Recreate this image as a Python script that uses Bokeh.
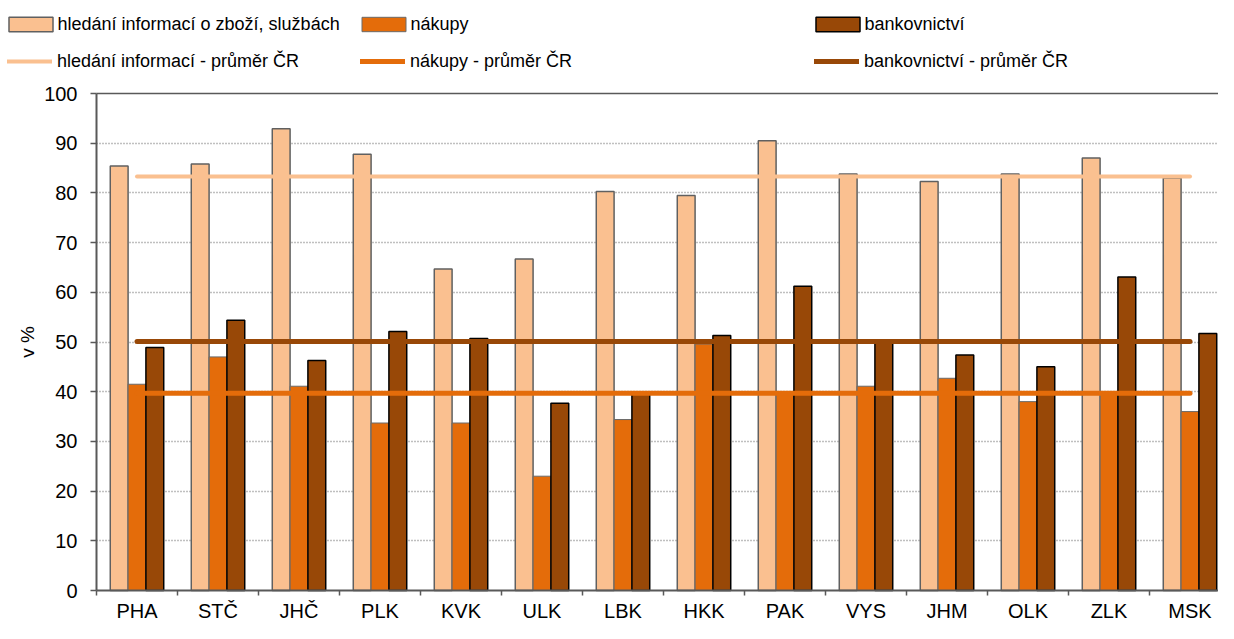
import numpy as np
from bokeh.plotting import figure
from bokeh.models import Legend, LegendItem, FixedTicker, Range1d, Grid
from bokeh.embed import file_html
from bokeh.resources import INLINE

# ---------------- data ----------------
regions = ["PHA", "STČ", "JHČ", "PLK", "KVK", "ULK", "LBK",
           "HKK", "PAK", "VYS", "JHM", "OLK", "ZLK", "MSK"]
info_search = [85.4, 85.8, 92.9, 87.8, 64.7, 66.7, 80.3,
               79.5, 90.5, 83.8, 82.3, 83.8, 87.0, 83.0]
shopping = [41.5, 47.0, 41.1, 33.7, 33.7, 23.0, 34.4,
            49.6, 39.8, 41.1, 42.7, 38.0, 39.5, 36.0]
banking = [48.9, 54.4, 46.3, 52.1, 50.7, 37.7, 39.8,
           51.3, 61.2, 49.9, 47.4, 45.0, 63.1, 51.7]
avg_info_search = 83.3
avg_shopping = 39.7
avg_banking = 50.1

bar_labels = ["hledání informací o zboží, službách", "nákupy", "bankovnictví"]
avg_labels = ["hledání informací - průměr ČR", "nákupy - průměr ČR",
              "bankovnictví - průměr ČR"]
y_ticks = list(range(0, 101, 10))

# ---------------- layout / styles ----------------
FONT = "Liberation Sans"
C_LIGHT = "#FAC090"
C_ORANGE = "#E46C0A"
C_DARK = "#984807"
AXIS_C = "#595959"
W, H = 1218, 623
AXIS_LEFT_PX = 96      # where the value axis sits
TOP_PX = 93            # where 100 % sits
ZERO_PX = 590          # where 0 % sits
CAT_PX = 81            # width of one category

n = len(regions)
unit = (ZERO_PX - TOP_PX) / (y_ticks[-1] - y_ticks[0])
x_start = -AXIS_LEFT_PX / CAT_PX
x_end = (W - AXIS_LEFT_PX) / CAT_PX
y_start = y_ticks[0] - (H - ZERO_PX) / unit
y_end = y_ticks[-1] + TOP_PX / unit

bar_styles = [dict(fill_color=C_LIGHT, line_color="#606060", line_width=1.5),
              dict(fill_color=C_ORANGE, line_color="#6a6a6a", line_width=1),
              dict(fill_color=C_DARK, line_color="black", line_width=1.5)]
line_styles = [dict(line_color=C_LIGHT, line_width=4, line_cap="round"),
               dict(line_color=C_ORANGE, line_width=5, line_cap="round"),
               dict(line_color=C_DARK, line_width=5, line_cap="round")]

centers = np.arange(n) + 0.5
bw = 0.22

p = figure(width=W, height=H, output_backend="svg", toolbar_location=None,
           x_range=Range1d(x_start, x_end), y_range=Range1d(y_start, y_end),
           min_border=0, min_border_left=0, min_border_right=0,
           min_border_top=0, min_border_bottom=0)
p.outline_line_color = None

# grid lines (dotted) only over the category area
p.xgrid.grid_line_color = None
p.ygrid.ticker = FixedTicker(ticks=y_ticks[1:-1])
p.ygrid.grid_line_color = "#808080"
p.ygrid.grid_line_dash = "1 2"
p.ygrid.grid_line_width = 1.5
p.ygrid.cross_bounds = (0, n)
top_line = Grid(dimension=1, ticker=FixedTicker(ticks=[y_ticks[-1]]),
                grid_line_color=AXIS_C, grid_line_width=1.5, cross_bounds=(0, n))
p.add_layout(top_line)

series = [info_search, shopping, banking]
offsets = [-bw, 0, bw]
bar_r = [p.vbar(x=centers + off, top=vals, width=bw, bottom=0, **st)
         for vals, off, st in zip(series, offsets, bar_styles)]

xs = [centers[0], centers[-1]]
line_r = [p.line(x=xs, y=[avg, avg], **st)
          for avg, st in zip([avg_info_search, avg_shopping, avg_banking], line_styles)]

# category axis, drawn at 0 %
xa = p.xaxis[0]
xa.fixed_location = y_ticks[0]
xa.bounds = (0, n)
xa.ticker = FixedTicker(ticks=list(centers), minor_ticks=list(np.arange(n + 1)))
xa.major_label_overrides = {float(c): r for c, r in zip(centers, regions)}
xa.major_tick_out = 0
xa.major_tick_in = 0
xa.minor_tick_out = 5
xa.minor_tick_in = 0
xa.minor_tick_line_color = AXIS_C
xa.minor_tick_line_width = 1.5
xa.axis_line_color = AXIS_C
xa.axis_line_width = 2
xa.major_label_text_font = FONT
xa.major_label_text_font_size = "20px"
xa.major_label_text_color = "black"
xa.major_label_standoff = 4

# value axis, drawn at the first category boundary
ya = p.yaxis[0]
ya.fixed_location = 0
ya.bounds = (y_ticks[0], y_ticks[-1])
ya.ticker = FixedTicker(ticks=y_ticks)
ya.minor_tick_line_color = None
ya.major_tick_out = 6
ya.major_tick_in = 0
ya.major_tick_line_color = AXIS_C
ya.major_tick_line_width = 1.5
ya.axis_line_color = AXIS_C
ya.axis_line_width = 2
ya.major_label_text_font = FONT
ya.major_label_text_font_size = "20px"
ya.major_label_text_color = "black"
ya.major_label_standoff = 13
ya.axis_label = "v %"
ya.axis_label_text_font = FONT
ya.axis_label_text_font_size = "19px"
ya.axis_label_text_font_style = "normal"
ya.axis_label_text_color = "black"
ya.axis_label_standoff = 3

# legends, one per entry, in two rows of three columns
ITEM_H = 21


def add_legend(renderer, label, left, row_center, glyph_w, glyph_h, standoff):
    lg = Legend(items=[LegendItem(label=label, renderers=[renderer])],
                location=(left, H - row_center - ITEM_H / 2),
                orientation="vertical", padding=0, margin=0, spacing=0,
                glyph_width=glyph_w, glyph_height=glyph_h, label_height=ITEM_H,
                label_standoff=standoff, label_text_font=FONT,
                label_text_font_size="18px", label_text_color="black",
                border_line_color=None, background_fill_alpha=0)
    p.add_layout(lg)


for r, lab, left in zip(bar_r, bar_labels, [2.5, 355.5, 809.5]):
    add_legend(r, lab, left, 24, 55, 18, 0)
for r, lab, left in zip(line_r, avg_labels, [7, 360, 814]):
    add_legend(r, lab, left, 61, 45, 18, 5)

open("out.html", "w").write(file_html(p, INLINE))
